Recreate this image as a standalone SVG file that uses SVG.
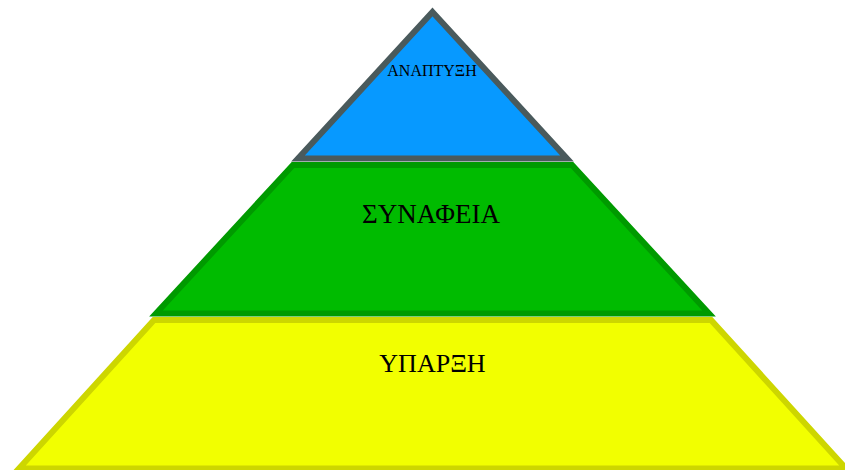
<svg xmlns="http://www.w3.org/2000/svg" width="845" height="470" viewBox="0 0 845 470">
<style>
.t{font-family:"Liberation Serif","Times New Roman",serif;fill:#000;text-anchor:middle}
</style>
<rect width="845" height="470" fill="#fff"/>
<g id="level-bottom">
<polygon points="154,320 711,320 846,468.5 19,468.5" fill="#f2ff00" stroke="#cdd600" stroke-width="6"/>
<text class="t" x="432.5" y="372" font-size="26">ΥΠΑΡΞΗ</text>
</g>
<g id="level-middle">
<polygon points="293,165 572,165 709,313.5 156,313.5" fill="#00bb00" stroke="#009a00" stroke-width="6"/>
<text class="t" x="431" y="222.5" font-size="27">ΣΥΝΑΦΕΙΑ</text>
</g>
<g id="level-top">
<polygon points="432.5,12 567,158.5 298,158.5" fill="#0799ff" stroke="#4a5a5c" stroke-width="6"/>
<text class="t" x="432" y="76" font-size="16">ΑΝΑΠΤΥΞΗ</text>
</g>
<g id="connectors"/>
</svg>
